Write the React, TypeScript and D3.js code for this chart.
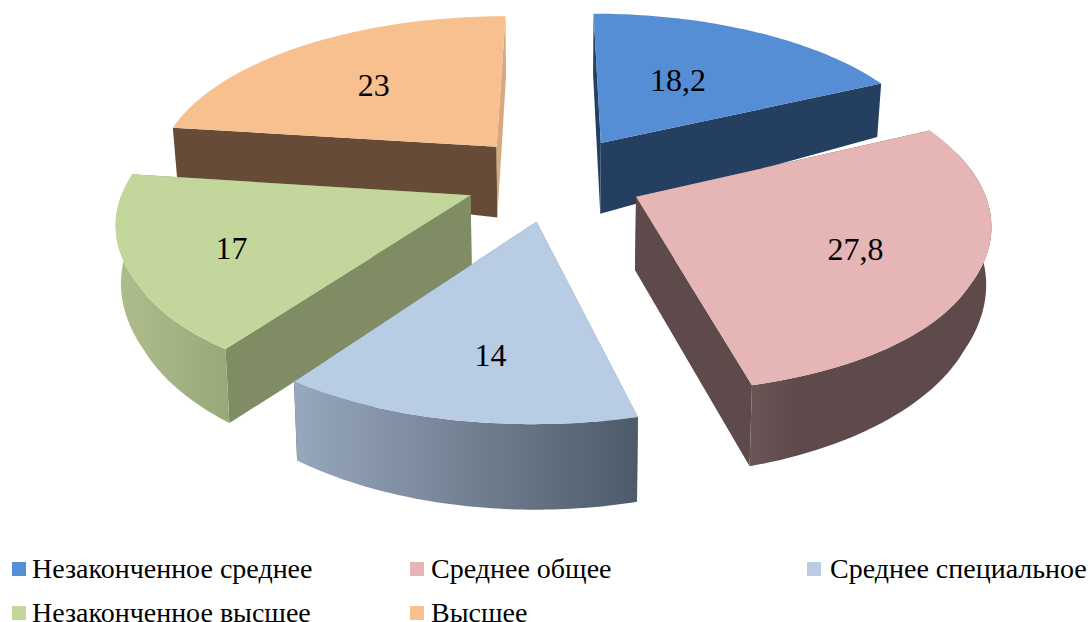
import * as d3 from 'd3';

const categories = ['Незаконченное среднее', 'Среднее общее', 'Среднее специальное', 'Незаконченное высшее', 'Высшее'];
const values = [18.2, 27.8, 14, 17, 23];
const valueLabels = ['18,2', '27,8', '14', '17', '23'];

const topColors = ['#558ed5', '#e6b5b5', '#b8cce4', '#c3d69b', '#f8c08e'];
const startWallColors = ['#243f60', '#5e4a4a', '#8f9fb4', '#7f8c64', '#664c37'];
const endWallColors = ['#243f60', '#5e4a4a', '#4f5c6b', '#7f8c64', '#d8a87e'];
const outerLeftColors = ['#243f60', '#6a5656', '#98a8bd', '#aebe8b', '#664c37'];
const outerRightColors = ['#243f60', '#5e4a4a', '#4d5a69', '#98a97a', '#664c37'];
const outerFade = [1, 0.2, 1, 1, 1];
const labelRadius = [0.5, 0.7, 0.73, 0.74, 0.56];
const labelNudge = [[-4, -2], [-15, -1], [11, -6], [12, 1], [-11, 0]];

// back slices first
const drawOrder = [4, 0, 3, 1, 2];

const legendSwatchX = [12, 410, 807];
const legendTextX = [32, 431, 830];
const legendY = [569, 613];

const width = 1090;
const height = 622;
const cx = 554;
const cy = 178;
const rx = 344;
const ry = 165;
const perspective = 0.15;
const explode = 0.26;

// outer wall only shows on the near side of the disc
const wallFrom = (75 * Math.PI) / 180;
const wallTo = (270 * Math.PI) / 180;

// disc coords -> screen, z = 0 top face, z = 1 bottom face
function project(dx: number, dy: number, z = 0): [number, number] {
    const s = 1 + perspective * dy;
    const sx = s + 0.06 * Math.max(0, dy - 0.6);
    return [
        cx + rx * dx * sx * (1 - 0.012 * z),
        cy + ry * dy * s + z * (73 + 10 * dy - 12 * dx * dx),
    ];
}

const line = d3.line();

export default function App() {
    const arcs = d3.pie<number>().sort(null)(values);

    const slices = arcs.map((a, i) => {
        const mid = (a.startAngle + a.endAngle) / 2;
        const ox = explode * Math.sin(mid);
        const oy = -explode * Math.cos(mid);
        const rim = (t: number, z: number) => project(ox + Math.sin(t), oy - Math.cos(t), z);
        const sweep = (from: number, to: number) =>
            d3.range(61).map(k => from + ((to - from) * k) / 60);
        const apexTop = project(ox, oy, 0);
        const apexBottom = project(ox, oy, 1);
        const topArc = sweep(a.startAngle, a.endAngle).map(t => rim(t, 0));

        const from = Math.max(a.startAngle, wallFrom);
        const to = Math.min(a.endAngle, wallTo);
        const wallAngles = to > from ? sweep(from, to) : [];
        const wallTop = wallAngles.map(t => rim(t, 0));
        const wallBottom = wallAngles.map(t => rim(t, 1));

        const lr = labelRadius[i];
        const lp = project(ox + lr * Math.sin(mid), oy - lr * Math.cos(mid), 0);
        return {
            i,
            top: line([apexTop, ...topArc]) + 'Z',
            startWall: line([apexTop, rim(a.startAngle, 0), rim(a.startAngle, 1), apexBottom]) + 'Z',
            endWall: line([apexTop, rim(a.endAngle, 0), rim(a.endAngle, 1), apexBottom]) + 'Z',
            outer: wallAngles.length ? line([...wallTop, ...wallBottom.slice().reverse()]) + 'Z' : null,
            xRange: (wallAngles.length ? d3.extent(wallTop.concat(wallBottom), p => p[0]) : [0, 1]) as [number, number],
            label: [lp[0] + labelNudge[i][0], lp[1] + labelNudge[i][1]],
        };
    });

    return (
        <svg
            width={width}
            height={height}
            style={{ position: 'absolute', left: 0, top: 0, display: 'block', background: '#fff' }}
            fontFamily="'Liberation Serif', 'Times New Roman', serif"
        >
            <defs>
                {slices.map(s => (
                    <linearGradient
                        key={s.i}
                        id={`outer-${s.i}`}
                        gradientUnits="userSpaceOnUse"
                        x1={s.xRange[0]}
                        x2={s.xRange[1]}
                        y1={0}
                        y2={0}
                    >
                        <stop offset={0} stopColor={outerLeftColors[s.i]} />
                        <stop offset={outerFade[s.i]} stopColor={outerRightColors[s.i]} />
                    </linearGradient>
                ))}
            </defs>

            {drawOrder.map(i => {
                const s = slices[i];
                return (
                    <g key={i}>
                        <path d={s.startWall} fill={startWallColors[i]} />
                        <path d={s.endWall} fill={endWallColors[i]} />
                        {s.outer && <path d={s.outer} fill={`url(#outer-${i})`} />}
                        <path d={s.top} fill={topColors[i]} />
                    </g>
                );
            })}

            {slices.map(s => (
                <text
                    key={s.i}
                    x={s.label[0]}
                    y={s.label[1]}
                    dy="0.33em"
                    textAnchor="middle"
                    fontSize={32}
                    fill="#000"
                >
                    {valueLabels[s.i]}
                </text>
            ))}

            {categories.map((c, i) => {
                const y = legendY[Math.floor(i / 3)];
                return (
                    <g key={c}>
                        <rect x={legendSwatchX[i % 3]} y={y - 7} width={14} height={14} fill={topColors[i]} />
                        <text x={legendTextX[i % 3]} y={y + 9} fontSize={28} fill="#000">{c}</text>
                    </g>
                );
            })}
        </svg>
    );
}
